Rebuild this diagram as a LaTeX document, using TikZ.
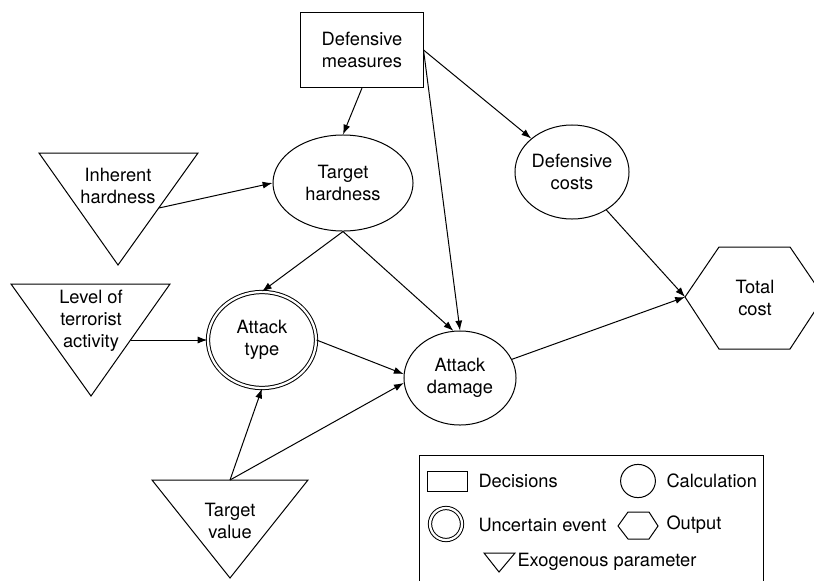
\documentclass[tikz,border=0pt]{standalone}
\usepackage{fontspec}
\setsansfont{TeX Gyre Heros}
\renewcommand{\familydefault}{\sfdefault}
\usetikzlibrary{shapes.geometric, arrows.meta, positioning}

\tikzset{
  every node/.style={font=\fontsize{13}{15.6}\selectfont, align=center},
  calc/.style={ellipse, draw, line width=0.25mm, inner sep=0pt},
  uncertain/.style={calc, double, double distance=1.6pt},
  decision/.style={rectangle, draw, line width=0.25mm, inner sep=0pt},
  keytext/.style={anchor=west, inner sep=0pt},
  arr/.style={line width=0.25mm, -{Latex[length=7pt,width=5pt]}},
}

\begin{document}
\begin{tikzpicture}[x=0.025cm, y=-0.025cm, line width=0.25mm]
            \useasboundingbox (0,0) rectangle (814,580);
            \clip (0,0) rectangle (814,580);

            \node[decision, minimum width=3.05cm, minimum height=1.875cm] (measures) at (362,50) {Defensive\\measures};
            \node[calc, minimum width=3.5cm, minimum height=2.4cm] (hardness) at (343,183) {Target\\hardness};
            \node[calc, minimum width=2.8cm, minimum height=2.35cm] (costs) at (572,172) {Defensive\\costs};
            \node[uncertain, minimum width=2.7cm, minimum height=2.4cm] (attype) at (262,340) {Attack\\type};
            \node[calc, minimum width=2.8cm, minimum height=2.35cm] (damage) at (460,378) {Attack\\damage};

            \draw (39,153) -- (198,153) -- (118,265) -- cycle;
            \node (inherent) at (118,186) {Inherent\\hardness};
            \coordinate (inherent-out) at (159,208);
            \draw (11,284) -- (170,284) -- (91,396) -- cycle;
            \node (terror) at (91,321) {Level of\\terrorist\\activity};
            \coordinate (terror-out) at (131,340);
            \draw (152,480) -- (308,480) -- (230,578) -- cycle;
            \node (value) at (230,521) {Target\\value};
            \coordinate (value-out) at (230,480);

            \draw (685,297) -- (719,247) -- (790,247) -- (824,297) -- (790,349) -- (719,349) -- cycle;
            \node (total) at (755,298) {Total\\cost};
            \coordinate (total-in) at (685,297);

            \draw[arr] (measures.south) -- (hardness.north);
            \draw[arr] (measures.east) -- (costs);
            \draw[arr] (measures.east) -- (damage.north);
            \draw[arr] (inherent-out) -- (hardness.west);
            \draw[arr] (hardness.south) -- (attype.north);
            \draw[arr] (hardness.south) -- (damage.98);
            \draw[arr] (terror-out) -- (attype.west);
            \draw[arr] (attype.east) -- (damage.176);
            \draw[arr] (value-out) -- (attype.south);
            \draw[arr] (value-out) -- (damage.185);
            \draw[arr] (costs) -- (total-in);
            \draw[arr] (damage) -- (total-in);

            \draw (419,455) rectangle (763,600);
            \node[decision, minimum width=1cm, minimum height=0.5cm] (key-dec) at (447,481) {};
            \node[keytext] (key-dectxt) at (478,481) {Decisions};
            \node[calc, minimum width=0.87cm, minimum height=0.83cm] (key-calc) at (638,481) {};
            \node[keytext] (key-calctxt) at (666,481) {Calculation};
            \node[uncertain, minimum width=0.8cm, minimum height=0.8cm] (key-unc) at (446,524) {};
            \node[keytext] (key-unctxt) at (478,525) {Uncertain event};
            \draw (618,526) -- (628,512) -- (649,512) -- (658,526) -- (649,539) -- (628,539) -- cycle;
            \node[keytext] (key-outtxt) at (666,525) {Output};
            \draw (484,553) -- (515,553) -- (499,572) -- cycle;
            \node[keytext] (key-exotxt) at (517,562) {Exogenous parameter};
        \end{tikzpicture}
\end{document}
